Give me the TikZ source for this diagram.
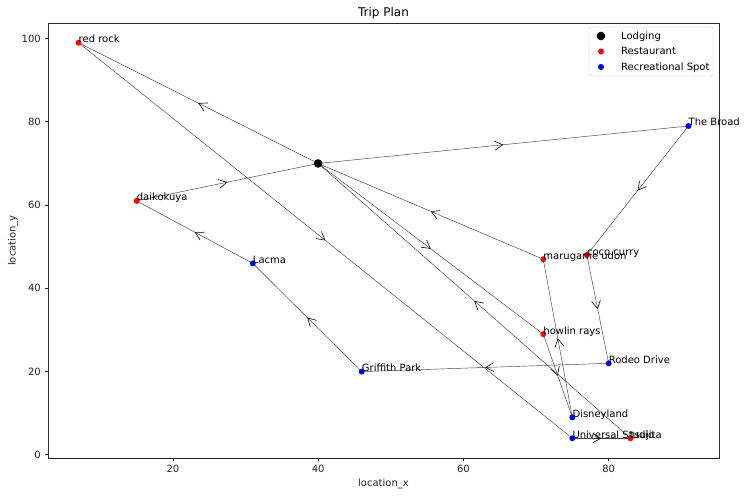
\documentclass[tikz,border=0pt]{standalone}
\usepackage{fontspec}
\setmainfont{DejaVu Sans}
\usetikzlibrary{arrows.meta,decorations.markings}
\tikzset{
  route/.style={draw=black!75, line width=0.45pt, postaction={decorate},
    decoration={markings, mark=at position 0.5 with {\arrow[black,line width=0.6pt]{Straight Barb[length=8pt,width=9pt]}}}},
  lodging/.style={circle, fill=black, inner sep=0pt, minimum size=8.6pt},
  restaurant/.style={circle, fill=red, inner sep=0pt, minimum size=6pt},
  recspot/.style={circle, fill=blue, inner sep=0pt, minimum size=6pt},
  plabel/.style={anchor=base west, inner sep=0pt, font=\fontsize{10}{12}\selectfont},
  ticklab/.style={inner sep=0pt, font=\fontsize{10}{12}\selectfont, text=black!85},
  axisline/.style={line width=0.8pt, draw=black!85},
}
\begin{document}
\begin{tikzpicture}[x=1pt,y=1pt]
\useasboundingbox (0,0) rectangle (745,497);
\begin{scope}[shift={(27.67pt,42.12pt)}, x=7.262pt, y=4.163pt]
  % data points
  \coordinate (lod) at (40,70);
  \coordinate (rr) at (7,99);
  \coordinate (dk) at (15,61);
  \coordinate (lac) at (31,46);
  \coordinate (gp) at (46,20);
  \coordinate (mu) at (71,47);
  \coordinate (cc) at (77,48);
  \coordinate (tb) at (91,79);
  \coordinate (hr) at (71,29);
  \coordinate (rd) at (80,22);
  \coordinate (dl) at (75,9);
  \coordinate (us) at (75,4);
  \coordinate (ts) at (83,4);
  % routes
  \draw[route] (lod) -- (hr);
  \draw[route] (hr) -- (dl);
  \draw[route] (dl) -- (mu);
  \draw[route] (mu) -- (lod);
  \draw[route] (lod) -- (tb);
  \draw[route] (tb) -- (cc);
  \draw[route] (cc) -- (rd);
  \draw[route] (rd) -- (gp);
  \draw[route] (gp) -- (lac);
  \draw[route] (lac) -- (dk);
  \draw[route] (dk) -- (lod);
  \draw[route] (lod) -- (rr);
  \draw[route] (rr) -- (us);
  \draw[route] (us) -- (ts);
  \draw[route] (ts) -- (lod);
  % markers
  \node[lodging] (mlod) at (lod) {};
  \node[restaurant] (mrr) at (rr) {};
  \node[restaurant] (mdk) at (dk) {};
  \node[recspot] (mlac) at (lac) {};
  \node[recspot] (mgp) at (gp) {};
  \node[restaurant] (mmu) at (mu) {};
  \node[restaurant] (mcc) at (cc) {};
  \node[recspot] (mtb) at (tb) {};
  \node[restaurant] (mhr) at (hr) {};
  \node[recspot] (mrd) at (rd) {};
  \node[recspot] (mdl) at (dl) {};
  \node[recspot] (mus) at (us) {};
  \node[restaurant] (mts) at (ts) {};
  % labels
  \node[plabel] (lrr) at (rr) {red rock};
  \node[plabel] (ldk) at (dk) {daikokuya};
  \node[plabel] (llac) at (lac) {Lacma};
  \node[plabel] (lgp) at (gp) {Griffith Park};
  \node[plabel] (lmu) at (mu) {marugame udon};
  \node[plabel] (lcc) at (cc) {coco curry};
  \node[plabel] (ltb) at (tb) {The Broad};
  \node[plabel] (lhr) at (hr) {howlin rays};
  \node[plabel] (lrd) at (rd) {Rodeo Drive};
  \node[plabel] (ldl) at (dl) {Disneyland};
  \node[plabel] (lus) at (us) {Universal Studio};
  \node[plabel] (lts) at (ts) {tsujita};
\end{scope}
% axes frame
\draw[axisline] (48,39) rectangle (719,474);
% x ticks
\foreach \t in {20,40,60,80} {
  \draw[axisline] ({27.67+7.262*\t},39) -- ++(0,-3.5);
  \node[ticklab, anchor=north] (xt\t) at ({27.67+7.262*\t},32) {\t};
}
% y ticks
\foreach \t in {0,20,40,60,80,100} {
  \draw[axisline] (48,{42.12+4.163*\t}) -- ++(-3.5,0);
  \node[ticklab, anchor=east] (yt\t) at (41,{42.12+4.163*\t}) {\t};
}
% axis labels and title
\node[ticklab] (xlab) at (383.5,13) {location\_x};
\node[ticklab, rotate=90] (ylab) at (13,256.5) {location\_y};
\node[inner sep=0pt, font=\fontsize{12}{14}\selectfont] (title) at (383.5,484) {Trip Plan};
% legend
\draw[draw=black!20, fill=white, rounded corners=2pt] (589,470) rectangle (713,421);
\node[lodging] (leg1) at (601,461) {};
\node[restaurant] (leg2) at (601,445.5) {};
\node[recspot] (leg3) at (601,430) {};
\node[plabel] (legt1) at (621,457.5) {Lodging};
\node[plabel] (legt2) at (621,442) {Restaurant};
\node[plabel] (legt3) at (621,426.5) {Recreational Spot};
\end{tikzpicture}
\end{document}
